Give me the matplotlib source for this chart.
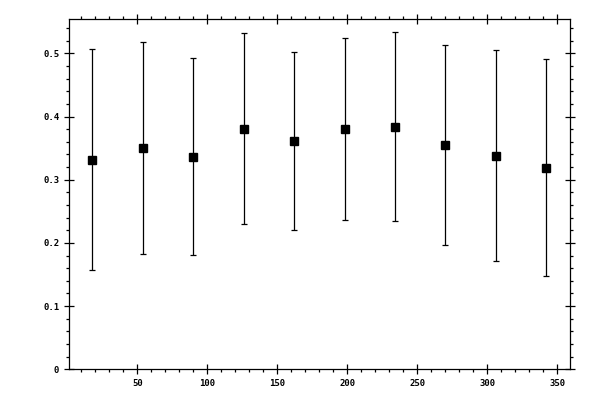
import matplotlib
matplotlib.use("Agg")
import matplotlib.pyplot as plt
from matplotlib.ticker import MultipleLocator, FormatStrFormatter, FuncFormatter

# Data
angles = [18, 54, 90, 126, 162, 198, 234, 270, 306, 342]
means = [0.3315, 0.3497, 0.3363, 0.3805, 0.3608, 0.3798, 0.3837, 0.3547, 0.3378, 0.3189]
errors = [0.1749, 0.1677, 0.1559, 0.1511, 0.1409, 0.1440, 0.1495, 0.1585, 0.1669, 0.1717]

fig = plt.figure(figsize=(6, 4), dpi=100)
ax = fig.add_axes([0.1155, 0.0768, 0.8345, 0.875])

ax.errorbar(angles, means, yerr=errors, fmt='s', color='black', ecolor='black',
            markersize=5.2, elinewidth=0.9, capsize=2, capthick=0.9)

ax.set_xlim(1.5, 359)
ax.set_ylim(0, 0.554)

ax.xaxis.set_major_locator(MultipleLocator(50))
ax.xaxis.set_minor_locator(MultipleLocator(10))
ax.yaxis.set_major_locator(MultipleLocator(0.1))
ax.yaxis.set_minor_locator(MultipleLocator(0.02))

def yfmt(v, pos):
    if abs(v) < 1e-9:
        return "0"
    return "%.1f" % v

ax.yaxis.set_major_formatter(FuncFormatter(yfmt))
ax.xaxis.set_major_formatter(FormatStrFormatter('%d'))

for sp in ax.spines.values():
    sp.set_linewidth(0.9)

ax.tick_params(which='major', direction='inout', length=6.5, width=0.9,
               top=True, right=True, labelsize=6.5, pad=4)
ax.tick_params(which='minor', direction='out', length=2.4, width=0.9,
               top=True, right=True)
for lab in ax.get_xticklabels() + ax.get_yticklabels():
    lab.set_family('DejaVu Sans Mono')
    lab.set_fontweight('bold')

fig.savefig("out.png", dpi=100)
